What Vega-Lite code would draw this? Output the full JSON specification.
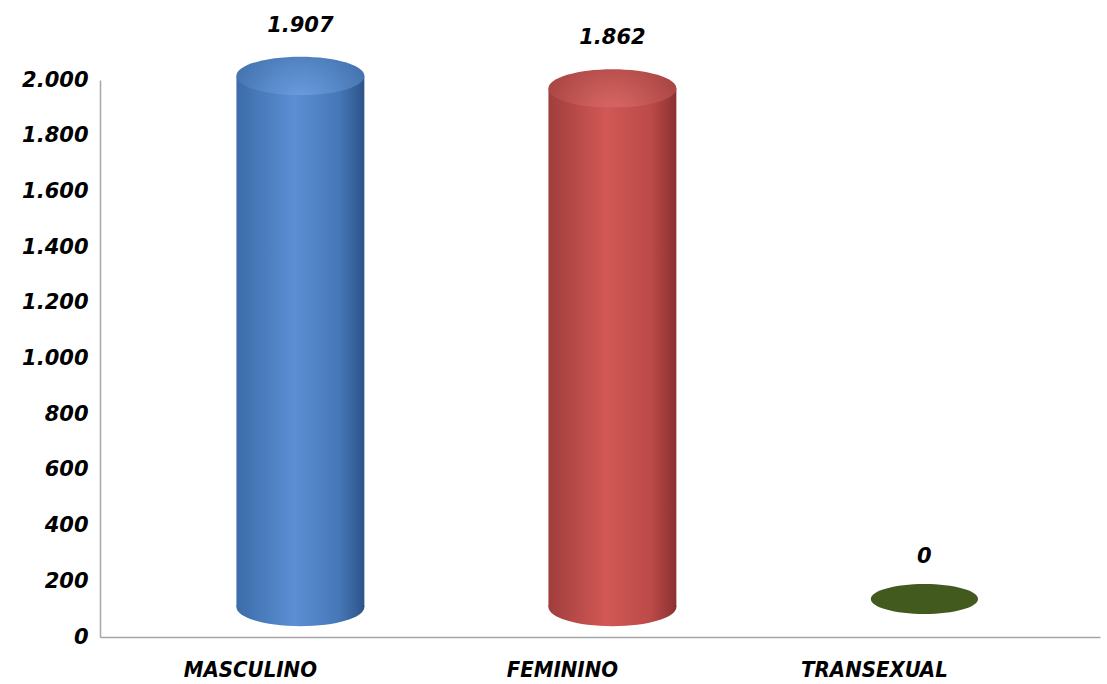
{
  "$schema": "https://vega.github.io/schema/vega-lite/v6.json",
  "width": 1000,
  "height": 557,
  "autosize": {"type": "none"},
  "padding": {"left": 100, "top": 80, "right": 7, "bottom": 47},
  "background": "white",
  "config": {
    "view": {"stroke": null},
    "locale": {"number": {"decimal": ",", "thousands": ".", "grouping": [3], "currency": ["", ""]}}
  },
  "data": {"values": [
    {"sexo": "MASCULINO", "valor": 1907},
    {"sexo": "FEMININO", "valor": 1862},
    {"sexo": "TRANSEXUAL", "valor": 0}
  ]},
  "encoding": {
    "x": {"field": "sexo", "type": "nominal", "sort": null,
      "scale": {"paddingInner": 0.59, "paddingOuter": 0.3975, "align": 0.55},
      "axis": {"title": null, "labelAngle": 0, "ticks": false, "domain": true, "domainColor": "#A6A6A6", "domainWidth": 1.5,
        "labelFont": "DejaVu Sans Condensed", "labelFontSize": 22, "labelFontWeight": "bold", "labelFontStyle": "italic",
        "labelColor": "#000000", "labelPadding": 22, "labelOffset": -50}},
    "y": {"field": "valor", "type": "quantitative",
      "scale": {"domain": [0, 2000], "nice": false},
      "axis": {"title": null, "values": [0,200,400,600,800,1000,1200,1400,1600,1800,2000], "format": ",.0f", "grid": false, "ticks": false,
        "domainColor": "#A6A6A6", "domainWidth": 1.5, "labelFont": "DejaVu Sans", "labelFontSize": 21, "labelFontWeight": "bold",
        "labelFontStyle": "italic", "labelColor": "#000000", "labelPadding": 12}}
  },
  "layer": [
    {
      "transform": [{"filter": "datum.sexo === 'MASCULINO'"}],
      "mark": {"type": "bar", "yOffset": -30, "y2Offset": -30,
        "color": {"gradient": "linear", "x1": 0, "x2": 1, "y1": 0, "y2": 0,
          "stops": [{"offset": 0, "color": "#3C6CA8"}, {"offset": 0.45, "color": "#5B8ED4"}, {"offset": 0.8, "color": "#4678B8"}, {"offset": 1, "color": "#2C5488"}]}},
      "encoding": {"y2": {"datum": 0}}
    },
    {
      "transform": [{"filter": "datum.sexo === 'MASCULINO'"}],
      "mark": {"type": "point", "filled": true, "opacity": 1, "size": 16384, "yOffset": -30,
        "shape": "M -1 0 A 1 0.3 0 1 0 1 0 A 1 0.3 0 1 0 -1 0 Z",
        "color": {"gradient": "linear", "x1": 0, "x2": 1, "y1": 0, "y2": 0,
          "stops": [{"offset": 0, "color": "#3C6CA8"}, {"offset": 0.45, "color": "#5B8ED4"}, {"offset": 0.8, "color": "#4678B8"}, {"offset": 1, "color": "#2C5488"}]}},
      "encoding": {"y": {"datum": 0}}
    },
    {
      "transform": [{"filter": "datum.sexo === 'MASCULINO'"}],
      "mark": {"type": "point", "filled": true, "opacity": 1, "size": 16384, "yOffset": -30,
        "shape": "M -1 0 A 1 0.3 0 1 0 1 0 A 1 0.3 0 1 0 -1 0 Z",
        "color": {"gradient": "radial", "x1": 0.5, "y1": 0.75, "x2": 0.5, "y2": 0.75, "r1": 0, "r2": 0.7,
          "stops": [{"offset": 0, "color": "#6FA2E6"}, {"offset": 1, "color": "#3A68A2"}]}}
    },
    {
      "transform": [{"filter": "datum.sexo === 'FEMININO'"}],
      "mark": {"type": "bar", "yOffset": -30, "y2Offset": -30,
        "color": {"gradient": "linear", "x1": 0, "x2": 1, "y1": 0, "y2": 0,
          "stops": [{"offset": 0, "color": "#A03E3C"}, {"offset": 0.45, "color": "#D15855"}, {"offset": 0.8, "color": "#BB4A48"}, {"offset": 1, "color": "#8A3130"}]}},
      "encoding": {"y2": {"datum": 0}}
    },
    {
      "transform": [{"filter": "datum.sexo === 'FEMININO'"}],
      "mark": {"type": "point", "filled": true, "opacity": 1, "size": 16384, "yOffset": -30,
        "shape": "M -1 0 A 1 0.3 0 1 0 1 0 A 1 0.3 0 1 0 -1 0 Z",
        "color": {"gradient": "linear", "x1": 0, "x2": 1, "y1": 0, "y2": 0,
          "stops": [{"offset": 0, "color": "#A03E3C"}, {"offset": 0.45, "color": "#D15855"}, {"offset": 0.8, "color": "#BB4A48"}, {"offset": 1, "color": "#8A3130"}]}},
      "encoding": {"y": {"datum": 0}}
    },
    {
      "transform": [{"filter": "datum.sexo === 'FEMININO'"}],
      "mark": {"type": "point", "filled": true, "opacity": 1, "size": 16384, "yOffset": -30,
        "shape": "M -1 0 A 1 0.3 0 1 0 1 0 A 1 0.3 0 1 0 -1 0 Z",
        "color": {"gradient": "radial", "x1": 0.5, "y1": 0.75, "x2": 0.5, "y2": 0.75, "r1": 0, "r2": 0.7,
          "stops": [{"offset": 0, "color": "#E06C69"}, {"offset": 1, "color": "#9C3C3A"}]}}
    },
    {
      "transform": [{"filter": "datum.sexo === 'TRANSEXUAL'"}],
      "mark": {"type": "point", "filled": true, "opacity": 1, "size": 11500, "yOffset": -38,
        "shape": "M -1 0 A 1 0.28 0 1 0 1 0 A 1 0.28 0 1 0 -1 0 Z",
        "color": "#435A1E"}
    },
    {
      "mark": {"type": "text", "dy": -80, "font": "DejaVu Sans", "fontSize": 21, "fontWeight": "bold", "fontStyle": "italic", "color": "#000000"},
      "encoding": {"text": {"field": "valor", "type": "quantitative", "format": ",.0f"}}
    }
  ]
}
